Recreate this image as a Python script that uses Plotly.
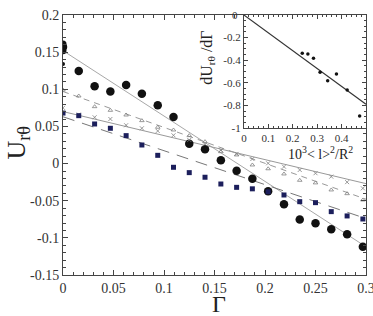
import plotly.graph_objects as go

# Main panel data
gamma = [0, 0.0156, 0.0313, 0.0469, 0.0625, 0.0781, 0.0938, 0.1094, 0.125, 0.1406,
         0.1563, 0.1719, 0.1875, 0.2031, 0.2188, 0.2344, 0.25, 0.2656, 0.2813, 0.2969]
u_circle = [0.157, 0.1247, 0.104, 0.097, 0.1058, 0.094, 0.0786, 0.0627, 0.0267, 0.0193,
            0.0044, -0.0096, -0.0205, -0.0373, -0.0547, -0.0752, -0.0804, -0.0884, -0.0952, -0.112]
u_triangle = [0.099, 0.091, 0.0766, 0.0717, 0.0654, 0.0578, 0.0489, 0.0452, 0.0376, 0.0295,
              0.016, 0.0116, -0.0019, -0.007, -0.014, -0.0225, -0.026, -0.0355, -0.0405, -0.049]
u_cross = [0.075, 0.066, 0.0623, 0.060, 0.0516, 0.0475, 0.0439, 0.038, 0.0318, 0.026,
           0.018, 0.013, 0.0062, 0.0004, -0.0042, -0.0086, -0.013, -0.0176, -0.025, -0.0333]
u_square = [0.068, 0.0645, 0.0533, 0.0475, 0.0376, 0.025, 0.0111, -0.005, -0.0122, -0.0184,
            -0.0275, -0.032, -0.034, -0.038, -0.0423, -0.0513, -0.0526, -0.0647, -0.0705, -0.0746]
extra_circle_x = [0, 0]
extra_circle_y = [0.161, 0.152]
extra_dot_x = [0]
extra_dot_y = [0.134]

fit_x = [0, 0.3]
fit_circle = [0.152, -0.112]
fit_triangle = [0.097, -0.048]
fit_cross = [0.070, -0.027]
fit_square = [0.063, -0.074]

x_ticks = [0, 0.05, 0.1, 0.15, 0.2, 0.25, 0.3]
x_ticklabels = ["0", "0.05", "0.1", "0.15", "0.2", "0.25", "0.3"]
y_ticks = [-0.15, -0.1, -0.05, 0, 0.05, 0.1, 0.15, 0.2]
y_ticklabels = ["-0.15", "-0.1", "-0.05", "0", "0.05", "0.1", "0.15", "0.2"]

# Inset data
inset_x = [0.239, 0.262, 0.285, 0.312, 0.343, 0.379, 0.423, 0.474]
inset_y = [-0.339, -0.345, -0.383, -0.507, -0.581, -0.522, -0.664, -0.894]
inset_fit_x = [0, 0.5]
inset_fit_y = [0, -0.79]
inset_xticks = [0, 0.1, 0.2, 0.3, 0.4]
inset_xticklabels = ["0", "0.1", "0.2", "0.3", "0.4"]
inset_yticks = [-1, -0.8, -0.6, -0.4, -0.2, 0]
inset_yticklabels = ["-1", "-0.8", "-0.6", "-0.4", "-0.2", ""]
inset_top_label = "0"

SERIF = "Liberation Serif"
AX = "#444444"
EPS = 1e-6
fig = go.Figure()

# fit lines
fig.add_trace(go.Scatter(x=fit_x, y=fit_circle, mode="lines",
                         line=dict(color="#a8a8a8", width=1)))
fig.add_trace(go.Scatter(x=fit_x, y=fit_triangle, mode="lines",
                         line=dict(color="#999999", width=1, dash="6px,5px")))
fig.add_trace(go.Scatter(x=fit_x, y=fit_cross, mode="lines",
                         line=dict(color="#999999", width=1)))
fig.add_trace(go.Scatter(x=fit_x, y=fit_square, mode="lines",
                         line=dict(color="#777777", width=1, dash="12px,8px")))

# markers
fig.add_trace(go.Scatter(x=gamma, y=u_circle, mode="markers",
                         marker=dict(symbol="circle", size=8.5, color="#111111")))
fig.add_trace(go.Scatter(x=extra_circle_x, y=extra_circle_y, mode="markers",
                         marker=dict(symbol="circle", size=7, color="#111111")))
fig.add_trace(go.Scatter(x=extra_dot_x, y=extra_dot_y, mode="markers",
                         marker=dict(symbol="circle", size=4, color="#111111")))
fig.add_trace(go.Scatter(x=gamma, y=u_triangle, mode="markers",
                         marker=dict(symbol="triangle-up-open", size=4, color="#808080",
                                     line=dict(width=0.8))))
fig.add_trace(go.Scatter(x=gamma, y=u_cross, mode="markers",
                         marker=dict(symbol="x-thin", size=4, color="#808080",
                                     line=dict(width=0.8, color="#808080"))))
fig.add_trace(go.Scatter(x=gamma, y=u_square, mode="markers",
                         marker=dict(symbol="square", size=5, color="#1c1f5c")))

# inset
fig.add_trace(go.Scatter(x=inset_fit_x, y=inset_fit_y, mode="lines", xaxis="x2", yaxis="y2",
                         line=dict(color="#333333", width=1.2)))
fig.add_trace(go.Scatter(x=inset_x, y=inset_y, mode="markers", xaxis="x2", yaxis="y2",
                         marker=dict(symbol="circle", size=3.5, color="#111111")))


def axis(tickvals, ticktext, rng, domain, fontsize, ticklen, minor_dtick, anchor=None):
    d = dict(range=rng, domain=domain, tickvals=tickvals, ticktext=ticktext,
             showgrid=False, zeroline=False, showline=True, linecolor=AX, linewidth=1,
             ticks="inside", tickcolor=AX, ticklen=ticklen, mirror="allticks",
             automargin=False, ticklabeloverflow="allow",
             minor=dict(dtick=minor_dtick, ticklen=max(2, ticklen - 2), ticks="inside",
                        tickcolor=AX),
             tickfont=dict(family=SERIF, size=fontsize, color="#333333"))
    if anchor:
        d["anchor"] = anchor
    return d


fig.update_layout(
    width=373, height=316,
    margin=dict(l=63, r=7, t=15, b=41),
    paper_bgcolor="white", plot_bgcolor="white",
    showlegend=False,
    xaxis=axis(x_ticks, x_ticklabels, [0 - EPS, 0.3 + EPS], [0, 1], 14, 5, 0.01),
    yaxis=axis(y_ticks, y_ticklabels, [-0.15 - EPS, 0.2 + EPS], [0, 1], 14, 5, 0.01),
    xaxis2=axis(inset_xticks, inset_xticklabels, [0 - EPS, 0.5 + EPS], [0.597, 1.0], 11, 4, 0.02, "y2"),
    yaxis2=axis(inset_yticks, inset_yticklabels, [-1 - EPS, 0 + EPS], [0.565, 1.0], 11, 4, 0.05, "x2"),
    shapes=[dict(type="rect", xref="paper", yref="paper", x0=0.597, x1=1.0, y0=0.565, y1=1.0,
                 fillcolor="white", line=dict(width=0), layer="below")],
    annotations=[
        dict(text=inset_top_label, xref="paper", yref="paper", x=0.585, y=1.0,
             showarrow=False, xanchor="right", yanchor="middle",
             font=dict(family=SERIF, size=11, color="#333333")),
        dict(text="U<sub>rθ</sub>", xref="paper", yref="paper", x=-0.148, y=0.51,
             textangle=-90, showarrow=False, xanchor="center", yanchor="middle",
             font=dict(family=SERIF, size=26, color="#222222")),
        dict(text="Γ", xref="paper", yref="paper", x=0.515, y=-0.11,
             showarrow=False, xanchor="center", yanchor="middle",
             font=dict(family=SERIF, size=24, color="#222222")),
        dict(text="dU<sub>rθ</sub> /dΓ", xref="paper", yref="paper", x=0.478, y=0.835,
             textangle=-90, showarrow=False, xanchor="center", yanchor="middle",
             font=dict(family=SERIF, size=16, color="#222222")),
        dict(text="10<sup>3</sup>&lt; l&gt;<sup>2</sup>/R<sup>2</sup>", xref="paper", yref="paper",
             x=0.851, y=0.47, showarrow=False, xanchor="center", yanchor="middle",
             font=dict(family=SERIF, size=14, color="#222222")),
    ],
)

fig.write_html("out.html")
